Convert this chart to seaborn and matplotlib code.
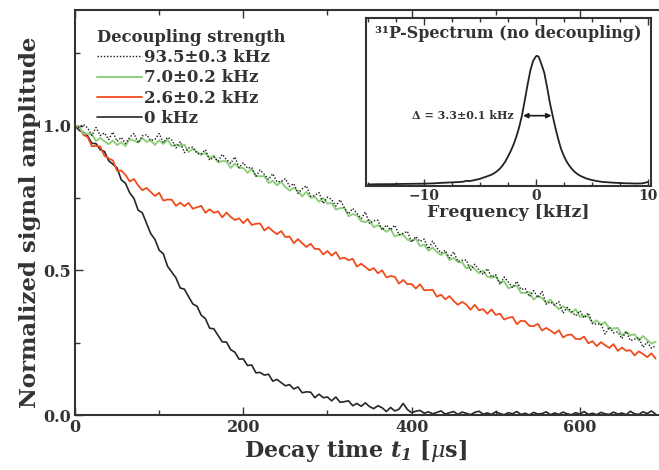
import numpy as np
import pandas as pd
import matplotlib
matplotlib.use("Agg")
import matplotlib.pyplot as plt
import seaborn as sns
from matplotlib.ticker import MultipleLocator, FixedLocator

sns.set_theme(style="ticks")
plt.rcParams['font.family'] = ['DejaVu Serif']
plt.rcParams['mathtext.fontset'] = 'dejavuserif'

# ---------------- data ----------------
decay_time_us = np.arange(0, 691, 5)

labels = ["93.5\u00b10.3 kHz", "7.0\u00b10.2 kHz", "2.6\u00b10.2 kHz", "0 kHz"]

amp_93_5kHz = [
    1.000, 0.995, 1.004, 0.993, 0.966, 0.994, 0.966, 0.975, 0.952, 0.978,
    0.946, 0.960, 0.938, 0.960, 0.973, 0.941, 0.965, 0.969, 0.949, 0.953,
    0.973, 0.941, 0.960, 0.951, 0.923, 0.945, 0.907, 0.923, 0.926, 0.904,
    0.903, 0.917, 0.881, 0.892, 0.877, 0.901, 0.883, 0.870, 0.892, 0.855,
    0.872, 0.853, 0.856, 0.825, 0.847, 0.832, 0.814, 0.834, 0.806, 0.807,
    0.817, 0.790, 0.800, 0.766, 0.782, 0.792, 0.756, 0.759, 0.769, 0.731,
    0.753, 0.745, 0.722, 0.744, 0.717, 0.695, 0.714, 0.697, 0.679, 0.702,
    0.662, 0.672, 0.673, 0.639, 0.657, 0.640, 0.656, 0.623, 0.628, 0.635,
    0.597, 0.617, 0.600, 0.608, 0.574, 0.601, 0.578, 0.560, 0.569, 0.543,
    0.564, 0.531, 0.535, 0.536, 0.500, 0.521, 0.502, 0.486, 0.506, 0.477,
    0.485, 0.451, 0.477, 0.459, 0.440, 0.462, 0.434, 0.437, 0.409, 0.430,
    0.406, 0.427, 0.383, 0.391, 0.380, 0.392, 0.352, 0.372, 0.358, 0.343,
    0.360, 0.335, 0.353, 0.316, 0.314, 0.315, 0.280, 0.304, 0.284, 0.287,
    0.264, 0.289, 0.257, 0.262, 0.268, 0.234, 0.252, 0.231, 0.240]

amp_7_0kHz = [
    1.000, 0.996, 0.973, 0.972, 0.971, 0.947, 0.958, 0.946, 0.936, 0.949,
    0.933, 0.943, 0.930, 0.954, 0.949, 0.942, 0.958, 0.944, 0.949, 0.934,
    0.950, 0.937, 0.952, 0.930, 0.935, 0.928, 0.935, 0.909, 0.920, 0.910,
    0.899, 0.906, 0.888, 0.897, 0.873, 0.878, 0.877, 0.854, 0.869, 0.854,
    0.854, 0.837, 0.850, 0.826, 0.825, 0.826, 0.802, 0.810, 0.794, 0.806,
    0.788, 0.776, 0.785, 0.774, 0.756, 0.771, 0.751, 0.754, 0.737, 0.750,
    0.731, 0.733, 0.710, 0.715, 0.716, 0.687, 0.695, 0.690, 0.670, 0.667,
    0.674, 0.649, 0.656, 0.646, 0.633, 0.644, 0.617, 0.624, 0.623, 0.606,
    0.603, 0.609, 0.584, 0.589, 0.568, 0.579, 0.564, 0.553, 0.562, 0.536,
    0.543, 0.529, 0.528, 0.506, 0.517, 0.504, 0.490, 0.499, 0.478, 0.475,
    0.479, 0.458, 0.462, 0.438, 0.444, 0.448, 0.422, 0.422, 0.425, 0.399,
    0.411, 0.404, 0.388, 0.399, 0.380, 0.366, 0.377, 0.365, 0.353, 0.366,
    0.339, 0.343, 0.341, 0.318, 0.327, 0.313, 0.321, 0.298, 0.299, 0.301,
    0.275, 0.287, 0.275, 0.279, 0.257, 0.273, 0.259, 0.247, 0.253]

amp_2_6kHz = [
    1.000, 0.995, 0.968, 0.961, 0.929, 0.930, 0.928, 0.896, 0.887, 0.880,
    0.844, 0.845, 0.830, 0.807, 0.816, 0.794, 0.777, 0.785, 0.771, 0.757,
    0.768, 0.741, 0.745, 0.744, 0.723, 0.734, 0.722, 0.733, 0.713, 0.718,
    0.723, 0.699, 0.711, 0.699, 0.704, 0.683, 0.700, 0.685, 0.674, 0.680,
    0.663, 0.678, 0.657, 0.661, 0.662, 0.638, 0.649, 0.636, 0.625, 0.636,
    0.615, 0.617, 0.594, 0.608, 0.594, 0.581, 0.592, 0.574, 0.574, 0.555,
    0.567, 0.551, 0.563, 0.540, 0.544, 0.535, 0.540, 0.513, 0.523, 0.512,
    0.500, 0.508, 0.490, 0.500, 0.476, 0.480, 0.478, 0.454, 0.467, 0.452,
    0.453, 0.437, 0.452, 0.431, 0.432, 0.433, 0.409, 0.416, 0.400, 0.411,
    0.394, 0.381, 0.391, 0.382, 0.364, 0.381, 0.362, 0.366, 0.350, 0.365,
    0.346, 0.350, 0.330, 0.336, 0.339, 0.314, 0.326, 0.324, 0.308, 0.307,
    0.315, 0.292, 0.301, 0.292, 0.281, 0.293, 0.268, 0.277, 0.278, 0.263,
    0.262, 0.271, 0.248, 0.255, 0.238, 0.252, 0.241, 0.232, 0.245, 0.222,
    0.233, 0.222, 0.224, 0.206, 0.220, 0.211, 0.200, 0.213, 0.195]

amp_0kHz = [
    1.000, 0.984, 0.977, 0.965, 0.939, 0.938, 0.917, 0.911, 0.879, 0.867,
    0.854, 0.813, 0.801, 0.768, 0.749, 0.708, 0.699, 0.663, 0.627, 0.607,
    0.570, 0.557, 0.514, 0.494, 0.474, 0.439, 0.435, 0.409, 0.384, 0.376,
    0.345, 0.333, 0.300, 0.298, 0.275, 0.253, 0.252, 0.226, 0.217, 0.193,
    0.194, 0.171, 0.173, 0.146, 0.147, 0.138, 0.141, 0.117, 0.123, 0.112,
    0.101, 0.105, 0.090, 0.097, 0.077, 0.080, 0.079, 0.060, 0.072, 0.060,
    0.062, 0.049, 0.062, 0.044, 0.046, 0.049, 0.032, 0.040, 0.030, 0.042,
    0.029, 0.022, 0.032, 0.025, 0.012, 0.026, 0.014, 0.020, 0.040, 0.019,
    0.008, 0.013, 0.016, 0.006, 0.011, 0.004, 0.009, 0.014, 0.003, 0.008,
    0.012, 0.002, 0.010, 0.006, 0.001, 0.009, 0.013, 0.003, 0.007, 0.002,
    0.011, 0.005, 0.001, 0.008, 0.004, 0.012, 0.002, 0.006, 0.000, 0.009,
    0.003, 0.005, 0.011, 0.001, 0.007, 0.002, 0.010, 0.004, 0.001, 0.008,
    0.003, 0.012, 0.002, 0.006, 0.001, 0.009, 0.004, 0.002, 0.010, 0.003,
    0.007, 0.001, 0.013, 0.004, 0.002, 0.011, 0.005, 0.014, 0.003]

spec_freq_khz = [-15, -14, -13, -12, -11, -10, -9, -8.5, -8, -7, -6.5, -6.2, -6,
                 -5.5, -5, -4.75, -4.5, -4.25, -4, -3.75, -3.5, -3.25, -3, -2.75,
                 -2.5, -2.25, -2, -1.75, -1.5, -1.25, -1, -0.75, -0.5, -0.25, 0,
                 0.1, 0.25, 0.5, 0.75, 1, 1.25, 1.5, 1.75, 2, 2.25, 2.5, 2.75, 3,
                 3.25, 3.5, 3.75, 4, 4.5, 5, 5.5, 6, 7, 7.5, 8, 9, 9.5, 10]
spec_amp = [0.012, 0.014, 0.014, 0.016, 0.017, 0.018, 0.021, 0.024, 0.026, 0.030,
            0.033, 0.040, 0.037, 0.045, 0.055, 0.063, 0.070, 0.078, 0.086, 0.097,
            0.112, 0.131, 0.155, 0.186, 0.226, 0.268, 0.318, 0.378, 0.450, 0.540,
            0.655, 0.775, 0.885, 0.960, 0.995, 1.000, 0.992, 0.935, 0.870, 0.760,
            0.640, 0.540, 0.445, 0.360, 0.285, 0.232, 0.188, 0.155, 0.128, 0.106,
            0.090, 0.077, 0.058, 0.046, 0.037, 0.031, 0.025, 0.023, 0.021, 0.019,
            0.020, 0.030]

series = [amp_93_5kHz, amp_7_0kHz, amp_2_6kHz, amp_0kHz]
for s in series:
    assert len(s) == len(decay_time_us)
assert len(spec_freq_khz) == len(spec_amp)

# ---------------- style ----------------
TXT = '#333333'
colors = ['#1a1a1a', '#8ecf7c', '#f04b1e', '#262626']
styles = [(0, (1, 1.3)), '-', '-', '-']
widths = [1.0, 1.4, 1.3, 1.2]

fig = plt.figure(figsize=(6.59, 4.70), dpi=100)
ax = fig.add_axes([75 / 659, (470 - 415) / 470, 584 / 659, 405 / 470])

for idx in [3, 2, 1, 0]:
    df = pd.DataFrame({'t': decay_time_us, 'amp': series[idx]})
    sns.lineplot(data=df, x='t', y='amp', ax=ax, color=colors[idx],
                 linestyle=styles[idx], linewidth=widths[idx],
                 estimator=None, sort=False, label=labels[idx], zorder=2 + (3 - idx))

ax.set_xlim(0, 694)
ax.set_ylim(0, 1.40)
ax.xaxis.set_major_locator(FixedLocator([0, 200, 400, 600]))
ax.xaxis.set_minor_locator(MultipleLocator(100))
ax.yaxis.set_major_locator(FixedLocator([0.0, 0.5, 1.0]))
ax.yaxis.set_minor_locator(MultipleLocator(0.25))
ax.set_yticklabels(['0.0', '0.5', '1.0'])
ax.tick_params(axis='both', which='both', direction='in', top=True, right=False,
               color=TXT, labelcolor=TXT, width=1.0)
ax.tick_params(axis='both', which='major', length=6, labelsize=11.5, pad=3)
ax.tick_params(axis='both', which='minor', length=3.5)
for lab in ax.get_xticklabels() + ax.get_yticklabels():
    lab.set_fontweight('bold')
for sp in ['left', 'bottom', 'top']:
    ax.spines[sp].set_color(TXT)
    ax.spines[sp].set_linewidth(1.5)
ax.spines['right'].set_visible(False)

ax.set_xlabel(r'Decay time $\mathbfit{t_1}$ [$\mu$s]', fontsize=16,
              fontweight='bold', color=TXT)
ax.xaxis.set_label_coords(0.48, -0.058)
ax.set_ylabel('Normalized signal amplitude', fontsize=16.5, fontweight='bold',
              color=TXT)
ax.yaxis.set_label_coords(-0.058, 0.475)

h, l = ax.get_legend_handles_labels()
order = [l.index(x) for x in labels]
leg = ax.legend([h[i] for i in order], [l[i] for i in order],
                title='Decoupling strength', loc='upper left',
                bbox_to_anchor=(0.026, 0.97), frameon=False,
                handlelength=2.7, handletextpad=0.15, labelspacing=0.2,
                borderaxespad=0, alignment='left',
                prop={'weight': 'bold', 'size': 12},
                title_fontproperties={'weight': 'bold', 'size': 11.8})
for tx in leg.get_texts():
    tx.set_color(TXT)
leg.get_title().set_color(TXT)

# ---------------- inset ----------------
axi = fig.add_axes([366 / 659, (470 - 186) / 470, 285 / 659, 168 / 470])
axi.set_facecolor('white')
sdf = pd.DataFrame({'f': spec_freq_khz, 'a': spec_amp})
sns.lineplot(data=sdf, x='f', y='a', ax=axi, color='#222222', linewidth=1.3,
             estimator=None, sort=False)
axi.set_xlim(-15.2, 10.3)
axi.set_ylim(0, 1.29)
axi.set_yticks([])
axi.xaxis.set_major_locator(FixedLocator([-10, 0, 10]))
axi.xaxis.set_minor_locator(MultipleLocator(2.5))
axi.set_xticklabels(['\u221210', '0', '10'])
axi.tick_params(axis='x', which='both', direction='in', top=True,
                color=TXT, labelcolor=TXT, width=1.0)
axi.tick_params(axis='x', which='major', length=5, labelsize=10, pad=2)
axi.tick_params(axis='x', which='minor', length=3)
for lab in axi.get_xticklabels():
    lab.set_fontweight('bold')
for sp in axi.spines.values():
    sp.set_color(TXT)
    sp.set_linewidth(1.5)
axi.set_xlabel('Frequency [kHz]', fontsize=12.5, fontweight='bold', color=TXT, labelpad=1)
axi.set_ylabel('')
axi.text(0.5, 0.96, '\u00b3\u00b9P-Spectrum (no decoupling)', transform=axi.transAxes,
         ha='center', va='top', fontsize=11.5, fontweight='bold', color=TXT)
axi.annotate('', xy=(-1.15, 0.54), xytext=(1.4, 0.54),
             arrowprops=dict(arrowstyle='<|-|>', color='#1a1a1a', lw=1.2,
                             shrinkA=0, shrinkB=0, mutation_scale=7))
axi.text(-2.0, 0.54, '\u0394 = 3.3\u00b10.1 kHz', ha='right', va='center',
         fontsize=8, fontweight='bold', color=TXT)

fig.savefig('out.png', dpi=100)
